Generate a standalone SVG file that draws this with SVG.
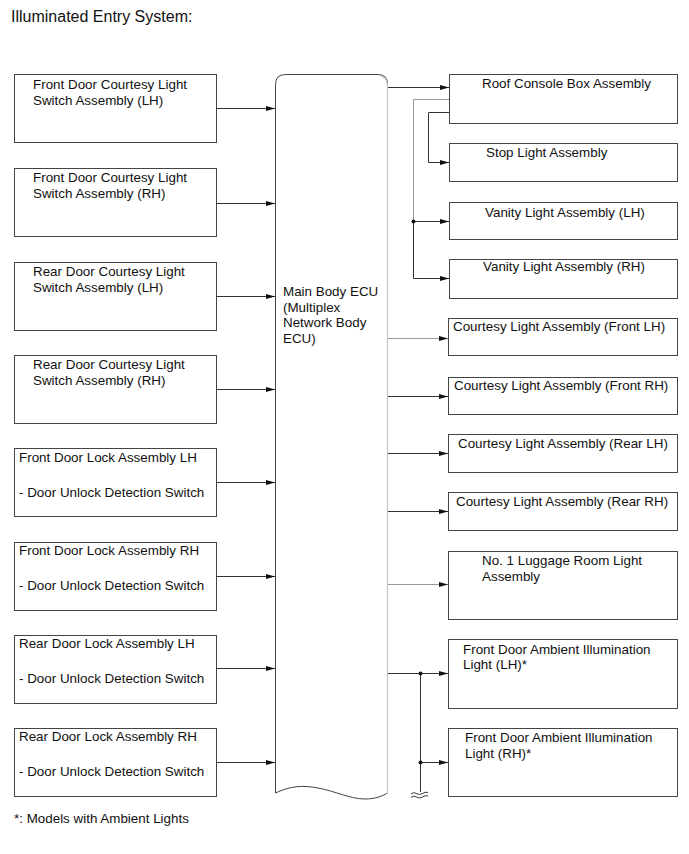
<svg xmlns="http://www.w3.org/2000/svg" width="689" height="854" viewBox="0 0 689 854">
<defs>
<marker id="ah" viewBox="0 0 9 5" refX="9" refY="2.5" markerWidth="9" markerHeight="5" markerUnits="userSpaceOnUse" orient="auto">
<path d="M0,0 L9,2.5 L0,5 z" fill="#111"/>
</marker>
<style>
.box{fill:#fff;stroke:#444;stroke-width:1}
.t{font-family:"Liberation Sans",Arial,sans-serif;font-size:13.4px;fill:#111}
.ln{fill:none;stroke:#333;stroke-width:1}
.lg{fill:none;stroke:#999;stroke-width:1}
.arr{marker-end:url(#ah)}
</style>
</defs>
<rect width="689" height="854" fill="#fff"/>
<text x="11" y="22" class="t" style="font-size:16px">Illuminated Entry System:</text>

<g id="ecu">
<path d="M275.5,793 L275.5,84.5 Q275.5,74.5 285.5,74.5 L378,74.5 Q387.5,74.5 387.5,84.5 L387.5,793 C383,796 375,799 365,799 C350,799 335,791 318,788 C303,785 290,786 275.5,793 Z" fill="#fff" stroke="#444" stroke-width="1"/>
<path d="M381,76 Q387.5,78 387.5,86 L387.5,793" fill="none" stroke="#c4c4c4" stroke-width="1.2"/>
<text class="t" x="283"><tspan x="283" y="296">Main Body ECU</tspan><tspan x="283" y="312">(Multiplex</tspan><tspan x="283" y="327">Network Body</tspan><tspan x="283" y="343">ECU)</tspan></text>
</g>

<g id="fdcl-lh"><rect class="box" x="14.5" y="74.5" width="202" height="68"/><text class="t"><tspan x="33" y="89">Front Door Courtesy Light</tspan><tspan x="33" y="105">Switch Assembly (LH)</tspan></text></g>
<g id="fdcl-rh"><rect class="box" x="14.5" y="168.5" width="202" height="68"/><text class="t"><tspan x="33" y="182">Front Door Courtesy Light</tspan><tspan x="33" y="198">Switch Assembly (RH)</tspan></text></g>
<g id="rdcl-lh"><rect class="box" x="14.5" y="262.5" width="202" height="68"/><text class="t"><tspan x="33" y="276">Rear Door Courtesy Light</tspan><tspan x="33" y="292">Switch Assembly (LH)</tspan></text></g>
<g id="rdcl-rh"><rect class="box" x="14.5" y="355.5" width="202" height="68"/><text class="t"><tspan x="33" y="369">Rear Door Courtesy Light</tspan><tspan x="33" y="385">Switch Assembly (RH)</tspan></text></g>
<g id="fdl-lh"><rect class="box" x="14.5" y="448.5" width="202" height="68"/><text class="t"><tspan x="19" y="462">Front Door Lock Assembly LH</tspan><tspan x="19" y="497">- Door Unlock Detection Switch</tspan></text></g>
<g id="fdl-rh"><rect class="box" x="14.5" y="542.5" width="202" height="68"/><text class="t"><tspan x="19" y="555">Front Door Lock Assembly RH</tspan><tspan x="19" y="590">- Door Unlock Detection Switch</tspan></text></g>
<g id="rdl-lh"><rect class="box" x="14.5" y="635.5" width="202" height="68"/><text class="t"><tspan x="19" y="648">Rear Door Lock Assembly LH</tspan><tspan x="19" y="683">- Door Unlock Detection Switch</tspan></text></g>
<g id="rdl-rh"><rect class="box" x="14.5" y="728.5" width="202" height="68"/><text class="t"><tspan x="19" y="741">Rear Door Lock Assembly RH</tspan><tspan x="19" y="776">- Door Unlock Detection Switch</tspan></text></g>

<g id="roof"><rect class="box" x="449.5" y="74.5" width="228" height="49"/><text class="t" x="482" y="88">Roof Console Box Assembly</text></g>
<g id="stop"><rect class="box" x="449.5" y="143.5" width="228" height="38"/><text class="t" x="486" y="157">Stop Light Assembly</text></g>
<g id="vanity-lh"><rect class="box" x="449.5" y="202.5" width="228" height="37"/><text class="t" x="485" y="217">Vanity Light Assembly (LH)</text></g>
<g id="vanity-rh"><rect class="box" x="449.5" y="259.5" width="228" height="39"/><text class="t" x="483" y="271">Vanity Light Assembly (RH)</text></g>
<g id="cl-flh"><rect class="box" x="448.5" y="318.5" width="229" height="37"/><text class="t" x="453" y="331">Courtesy Light Assembly (Front LH)</text></g>
<g id="cl-frh"><rect class="box" x="448.5" y="377.5" width="229" height="37"/><text class="t" x="454" y="390">Courtesy Light Assembly (Front RH)</text></g>
<g id="cl-rlh"><rect class="box" x="448.5" y="434.5" width="229" height="38"/><text class="t" x="458" y="448">Courtesy Light Assembly (Rear LH)</text></g>
<g id="cl-rrh"><rect class="box" x="448.5" y="492.5" width="229" height="38"/><text class="t" x="456" y="506">Courtesy Light Assembly (Rear RH)</text></g>
<g id="luggage"><rect class="box" x="448.5" y="551.5" width="229" height="68"/><text class="t"><tspan x="482" y="565">No. 1 Luggage Room Light</tspan><tspan x="482" y="581">Assembly</tspan></text></g>
<g id="amb-lh"><rect class="box" x="448.5" y="639.5" width="229" height="69"/><text class="t"><tspan x="463" y="654">Front Door Ambient Illumination</tspan><tspan x="463" y="669">Light (LH)*</tspan></text></g>
<g id="amb-rh"><rect class="box" x="448.5" y="728.5" width="229" height="68"/><text class="t"><tspan x="465" y="742">Front Door Ambient Illumination</tspan><tspan x="465" y="758">Light (RH)*</tspan></text></g>

<g id="connectors">
<path class="ln arr" d="M217,108.5 H275"/>
<path class="ln arr" d="M217,203.5 H275"/>
<path class="ln arr" d="M217,296.5 H275"/>
<path class="ln arr" d="M217,389.5 H275"/>
<path class="ln arr" d="M217,482.5 H275"/>
<path class="ln arr" d="M217,576.5 H275"/>
<path class="ln arr" d="M217,668.5 H275"/>
<path class="ln arr" d="M217,762.5 H275"/>

<path class="ln arr" d="M388,87.5 H449"/>
<path class="lg" d="M449,99.5 H413.5 V221"/>
<path class="ln arr" d="M413.5,221 V278.5 H449"/>
<path class="ln arr" d="M413.5,221.5 H449"/>
<circle cx="413.5" cy="221.5" r="2" fill="#111"/>
<path class="ln arr" d="M449,112.5 H428.5 V162.5 H449"/>

<path class="lg arr" d="M388,338.5 H448"/>
<path class="ln arr" d="M388,396.5 H448"/>
<path class="ln arr" d="M388,453.5 H448"/>
<path class="ln arr" d="M388,511.5 H448"/>
<path class="lg arr" d="M388,584.5 H448"/>

<path class="ln arr" d="M388,673.5 H448"/>
<path class="ln" d="M420.5,673.5 V792"/>
<path class="ln arr" d="M420.5,762.5 H448"/>
<circle cx="420.5" cy="673.5" r="2" fill="#111"/>
<circle cx="420.5" cy="762.5" r="2" fill="#111"/>
<path class="ln" d="M411,794 q2.5,-2.5 5.5,-0.5 t6,0 t5.5,-1 M411,797.5 q2.5,-2.5 5.5,-0.5 t6,0 t5.5,-1" stroke-width="0.8"/>
</g>

<text class="t" x="14" y="823">*: Models with Ambient Lights</text>
</svg>
